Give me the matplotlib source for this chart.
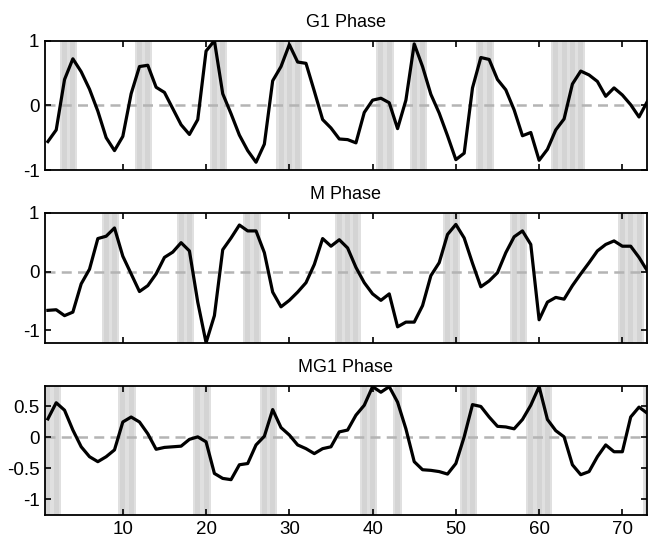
import matplotlib
matplotlib.use('Agg')
import numpy as np
import matplotlib.pyplot as plt

plt.rcParams['font.family'] = ['Liberation Sans', 'DejaVu Sans']

# === data ===
t = np.arange(1, 74)

g1 = [-0.56, -0.38, 0.40, 0.72, 0.52, 0.25, -0.09, -0.50, -0.70, -0.48,
      0.18, 0.60, 0.62, 0.28, 0.20, -0.05, -0.30, -0.45, -0.22, 0.84,
      1.00, 0.18, -0.13, -0.46, -0.70, -0.88, -0.60, 0.38, 0.60, 0.94,
      0.67, 0.65, 0.22, -0.22, -0.35, -0.52, -0.53, -0.58, -0.11, 0.08,
      0.11, 0.04, -0.36, 0.08, 0.95, 0.60, 0.17, -0.12, -0.47, -0.84,
      -0.74, 0.27, 0.74, 0.71, 0.40, 0.24, -0.07, -0.47, -0.42, -0.85,
      -0.68, -0.38, -0.21, 0.33, 0.53, 0.47, 0.37, 0.14, 0.27, 0.16,
      0.01, -0.18, 0.06]

m = [-0.66, -0.65, -0.75, -0.69, -0.21, 0.04, 0.56, 0.60, 0.74, 0.26,
     -0.04, -0.34, -0.24, -0.04, 0.24, 0.33, 0.49, 0.35, -0.52, -1.21,
     -0.75, 0.37, 0.57, 0.79, 0.69, 0.69, 0.32, -0.35, -0.60, -0.49,
     -0.35, -0.19, 0.12, 0.56, 0.43, 0.54, 0.40, 0.07, -0.19, -0.38,
     -0.49, -0.38, -0.94, -0.86, -0.86, -0.58, -0.07, 0.15, 0.63, 0.80,
     0.57, 0.14, -0.26, -0.16, -0.02, 0.32, 0.59, 0.69, 0.46, -0.82,
     -0.52, -0.44, -0.47, -0.24, -0.04, 0.15, 0.35, 0.46, 0.52, 0.43,
     0.43, 0.24, 0.01]

mg1 = [0.30, 0.56, 0.44, 0.12, -0.15, -0.31, -0.39, -0.31, -0.20, 0.25,
       0.33, 0.25, 0.06, -0.19, -0.16, -0.15, -0.14, -0.03, 0.01, -0.07,
       -0.58, -0.66, -0.68, -0.44, -0.42, -0.12, 0.02, 0.45, 0.16, 0.04,
       -0.12, -0.18, -0.26, -0.18, -0.15, 0.09, 0.12, 0.36, 0.52, 0.82,
       0.73, 0.82, 0.57, 0.14, -0.39, -0.52, -0.53, -0.55, -0.59, -0.42,
       0.01, 0.53, 0.50, 0.33, 0.18, 0.17, 0.14, 0.29, 0.52, 0.82,
       0.29, 0.11, 0.01, -0.44, -0.60, -0.55, -0.31, -0.12, -0.23, -0.23,
       0.33, 0.49, 0.39]

# shaded time points per phase
g1_marks = [3, 4, 12, 13, 21, 22, 29, 30, 31, 41, 42, 45, 46, 53, 54, 62, 63, 64, 65]
m_marks = [8, 9, 17, 18, 25, 26, 36, 37, 38, 49, 50, 57, 58, 70, 71, 72]
mg1_marks = [1, 2, 10, 11, 19, 20, 27, 28, 39, 40, 43, 51, 52, 59, 60, 61, 73]

titles = ["G1 Phase", "M Phase", "MG1 Phase"]
series = [g1, m, mg1]
marks = [g1_marks, m_marks, mg1_marks]
ylims = [(-1, 1), (-1.22, 1.0), (-1.25, 0.83)]
yticks = [[-1, 0, 1], [-1, 0, 1], [-1, -0.5, 0, 0.5]]
yticklabels = [["-1", "0", "1"], ["-1", "0", "1"], ["-1", "-0.5", "0", "0.5"]]

# axes boxes in figure fractions [left, bottom, width, height]
boxes = [[0.0694, 0.6892, 0.9283, 0.2364],
         [0.0694, 0.3724, 0.9283, 0.2388],
         [0.0694, 0.0585, 0.9283, 0.2358]]

fig = plt.figure(figsize=(6.48, 5.47), dpi=100)

for i in range(3):
    ax = fig.add_axes(boxes[i])
    for k in marks[i]:
        ax.axvspan(k - 0.55, k + 0.55, color="#e0e0e0", lw=0, zorder=0)
        ax.axvspan(k - 0.3, k + 0.3, color="#d4d4d4", lw=0, zorder=0)
    ax.axhline(0, color="#b4b4b4", lw=1.8, ls=(0, (4, 2.5)), zorder=1)
    ax.plot(t, series[i], color="black", lw=2.3, zorder=3)

    ax.set_xlim(0.65, 72.9)
    ax.set_ylim(*ylims[i])
    ax.set_xticks(np.arange(10, 71, 10))
    ax.set_yticks(yticks[i])
    ax.set_yticklabels(yticklabels[i])
    if i < 2:
        ax.set_xticklabels([])
    ax.tick_params(direction="in", top=True, right=True, length=4,
                   width=1.2, labelsize=13.5, pad=4)
    for s in ax.spines.values():
        s.set_linewidth(1.3)
    ax.set_title(titles[i], fontsize=13, pad=10)

fig.savefig("out.png", dpi=100)
